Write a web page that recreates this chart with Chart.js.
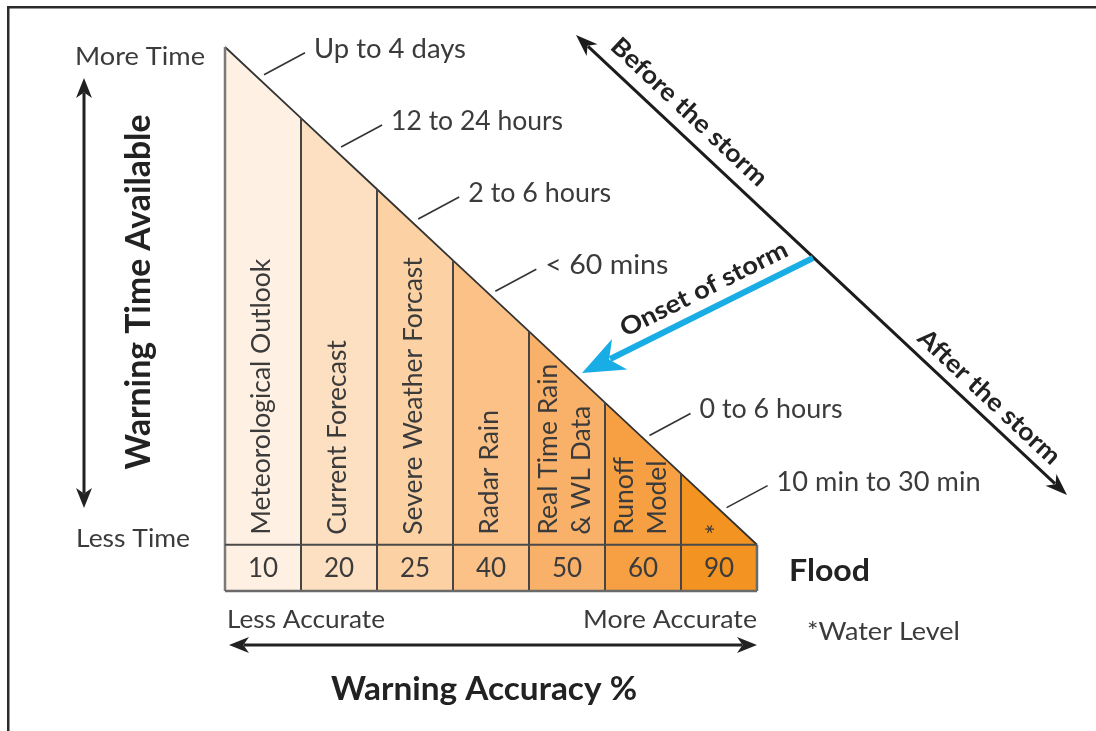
<!DOCTYPE html>
<html><head><meta charset="utf-8">
<script src="https://cdn.jsdelivr.net/npm/chart.js@4/dist/chart.umd.min.js"></script>
<style>html,body{margin:0;padding:0;background:#fff}#wrap{position:relative;width:1096px;height:731px}canvas{display:block}</style>
</head><body><div id="wrap"><canvas id="c" width="1096" height="731"></canvas></div>
<script>
// ---- data ----
const methods = ["Meteorological Outlook", "Current Forecast", "Severe Weather Forcast", "Radar Rain", ["Real Time Rain", "& WL Data"], ["Runoff", "Model"], "*"];
const accuracy = [10, 20, 25, 40, 50, 60, 90];
const warningTimeEdges = [7, 6, 5, 4, 3, 2, 1, 0];
const leadTimeLabels = ["Up to 4 days", "12 to 24 hours", "2 to 6 hours", "< 60 mins", "", "0 to 6 hours", "10 min to 30 min"];
const columnColors = ["#fef1e3", "#fde0c1", "#fcd1a4", "#fbc187", "#f9b169", "#f6a043", "#f39322"];
const tableRow = 0.65;

const FONT = "Lato, 'Open Sans', sans-serif";
const TXT = "#3b3b3b";
const DARK = "#222";

const datasets = [];
methods.forEach((m, i) => {
  datasets.push({
    data: [{x: i, y: warningTimeEdges[i]}, {x: i + 1, y: warningTimeEdges[i + 1]}],
    fill: {value: -tableRow}, backgroundColor: columnColors[i],
    borderWidth: 0, borderColor: 'rgba(0,0,0,0)', pointRadius: 0, clip: false, order: 10
  });
});
const line = (pts, color, w) => ({data: pts, fill: false, borderColor: color, borderWidth: w, pointRadius: 0, clip: false, order: 1, tension: 0});
datasets.push(line([{x: 0, y: 0}, {x: 7, y: 0}], "#4a4a4a", 2));
datasets.push(line([{x: 0, y: -tableRow}, {x: 7, y: -tableRow}], "#6a6a6a", 2.5));
for (let i = 1; i < 7; i++) datasets.push(line([{x: i, y: -tableRow}, {x: i, y: warningTimeEdges[i]}], "#454545", 2));
datasets.push(line([{x: 0, y: -tableRow}, {x: 0, y: warningTimeEdges[0]}], "#7a7a7a", 2.5));
datasets.push(line([{x: 7, y: -tableRow}, {x: 7, y: 0}], "#6a6a6a", 2.5));
datasets.push(line(warningTimeEdges.map((h, i) => ({x: i, y: h})), "#333", 1.8));

function txt(ctx, s, x, y, o = {}) {
  const size = o.size || 25, weight = o.weight || 'normal', color = o.color || TXT;
  ctx.save();
  ctx.translate(x, y);
  if (o.rot) ctx.rotate(o.rot);
  ctx.font = `${weight} ${size}px ${FONT}`;
  ctx.fillStyle = color;
  ctx.textBaseline = o.base || 'alphabetic';
  ctx.textAlign = 'left';
  const m = ctx.measureText(s).width;
  const sx = o.w ? o.w / m : 1;
  const tw = m * sx;
  const ox = (o.align === 'center') ? -tw / 2 : (o.align === 'right' ? -tw : 0);
  ctx.translate(ox, 0);
  ctx.scale(sx, 1);
  ctx.fillText(s, 0, 0);
  ctx.restore();
}
function head(ctx, x, y, ang, len, half, color) {
  ctx.save(); ctx.translate(x, y); ctx.rotate(ang); ctx.fillStyle = color;
  ctx.beginPath(); ctx.moveTo(0, 0); ctx.lineTo(-len, -half); ctx.lineTo(-len * 0.72, 0); ctx.lineTo(-len, half); ctx.closePath(); ctx.fill();
  ctx.restore();
}
function arrow(ctx, x1, y1, x2, y2, o) {
  const ang = Math.atan2(y2 - y1, x2 - x1);
  const color = o.color, w = o.w;
  ctx.save(); ctx.strokeStyle = color; ctx.lineWidth = w; ctx.lineCap = 'butt';
  const inset = o.len * 0.75;
  const sx = o.both ? x1 + Math.cos(ang) * inset : x1, sy = o.both ? y1 + Math.sin(ang) * inset : y1;
  ctx.beginPath(); ctx.moveTo(sx, sy); ctx.lineTo(x2 - Math.cos(ang) * inset, y2 - Math.sin(ang) * inset); ctx.stroke();
  ctx.restore();
  head(ctx, x2, y2, ang, o.len, o.half, color);
  if (o.both) head(ctx, x1, y1, ang + Math.PI, o.len, o.half, color);
}

const leadLabelWidths = [152, 172, 143, 123, 0, 143, 204];

const annotations = {
  id: 'annotations',
  afterDatasetsDraw(chart) {
    const ctx = chart.ctx, xs = chart.scales.x, ys = chart.scales.y;
    // frame
    ctx.save(); ctx.fillStyle = '#2b2b2b';
    ctx.fillRect(7, 6, 1089, 2.5); ctx.fillRect(7, 6, 2.5, 725);
    ctx.restore();

    // column labels (rotated) and accuracy numbers
    methods.forEach((m, i) => {
      const lines = Array.isArray(m) ? m : [m];
      const mid = xs.getPixelForValue(i + 0.5);
      lines.forEach((s, j) => {
        const bx = mid + 6.5 + (j - (lines.length - 1) / 2) * 33.5;
        txt(ctx, s, bx, ys.getPixelForValue(0) - 10, {rot: -Math.PI / 2, size: 26.5});
      });
      txt(ctx, String(accuracy[i]), mid, ys.getPixelForValue(-tableRow / 2) + 9, {align: 'center', size: 26});
    });

    // lead-time labels with leader lines
    ctx.save(); ctx.strokeStyle = '#333'; ctx.lineWidth = 1.6;
    leadTimeLabels.forEach((s, i) => {
      if (!s) return;
      const mid = xs.getPixelForValue(i + 0.5);
      const px = mid + 1 + i * 1.1;
      const xv = xs.getValueForPixel(px);
      const yv = warningTimeEdges[i] + (warningTimeEdges[i + 1] - warningTimeEdges[i]) * (xv - i);
      const py = ys.getPixelForValue(yv) - 8.7;
      ctx.beginPath(); ctx.moveTo(px, py); ctx.lineTo(px + 41, py - 22); ctx.stroke();
      txt(ctx, s, px + 50, py - 17, {size: 26, w: leadLabelWidths[i]});
    });
    ctx.restore();

    // left side
    txt(ctx, "More Time", 75, 65, {size: 25, w: 130});
    txt(ctx, "Less Time", 76, 547, {size: 25, w: 114});
    arrow(ctx, 84, 78, 84, 508, {color: '#222', w: 3, len: 20, half: 8, both: true});
    txt(ctx, "Warning Time Available", 150, 292, {rot: -Math.PI / 2, size: 34, weight: 'bold', color: DARK, align: 'center', w: 355});

    // bottom
    txt(ctx, "Less Accurate", 227, 628, {size: 25, w: 158});
    txt(ctx, "More Accurate", 757, 628, {size: 25, w: 174, align: 'right'});
    arrow(ctx, 229, 645, 757, 645, {color: '#222', w: 3, len: 20, half: 8, both: true});
    txt(ctx, "Warning Accuracy %", 484, 700, {size: 33, weight: 'bold', color: DARK, align: 'center', w: 306});
    txt(ctx, "Flood", 789, 581, {size: 31, weight: 'bold', color: DARK, w: 81});
    txt(ctx, "*Water Level", 807, 640, {size: 25, w: 153});

    // storm timeline arrow
    arrow(ctx, 576, 35, 1067, 495, {color: '#1c1c1c', w: 3, len: 22, half: 8, both: true});
    const a = Math.atan2(460, 491);
    txt(ctx, "Before the storm", 689, 112, {rot: a, size: 25, weight: 'bold', color: DARK, align: 'center', base: 'middle', w: 204});
    txt(ctx, "After the storm", 989, 397, {rot: a, size: 25, weight: 'bold', color: DARK, align: 'center', base: 'middle', w: 185});

    // onset of storm arrow
    arrow(ctx, 813, 258, 582, 373, {color: '#19ade6', w: 6, len: 42, half: 17});
    txt(ctx, "Onset of storm", 704, 289, {rot: Math.atan2(-115, 231), size: 25, weight: 'bold', color: DARK, align: 'center', base: 'middle', w: 184});
  }
};

new Chart(document.getElementById('c'), {
  type: 'line',
  data: {datasets},
  options: {
    responsive: false, animation: false, devicePixelRatio: 1,
    layout: {padding: {left: 225, right: 339, top: 47, bottom: 140}},
    plugins: {legend: {display: false}, tooltip: {enabled: false}, title: {display: false}},
    scales: {
      x: {type: 'linear', min: 0, max: 7, display: false},
      y: {type: 'linear', min: -tableRow, max: 7, display: false}
    },
    elements: {line: {borderJoinStyle: 'miter'}}
  },
  plugins: [annotations]
});
</script>
</body></html>
